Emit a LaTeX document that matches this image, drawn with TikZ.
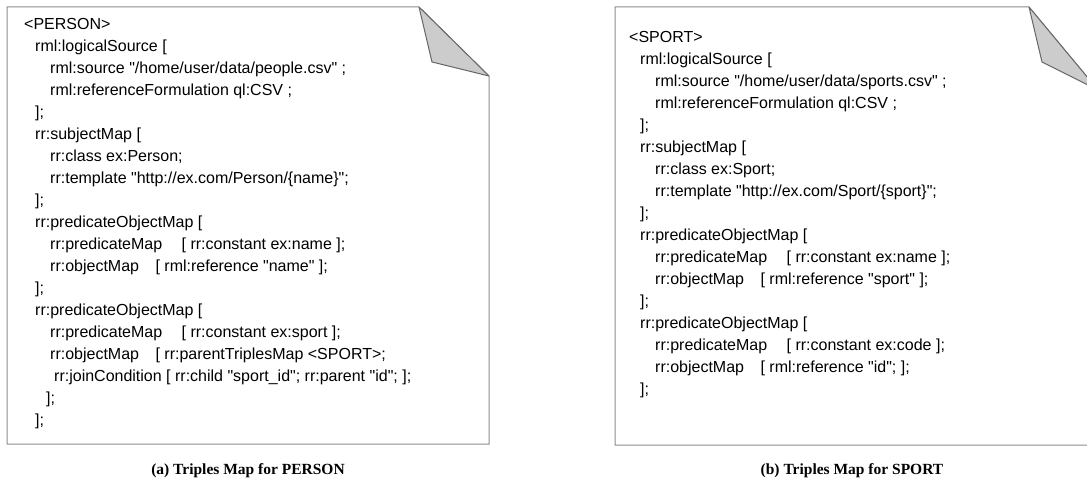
\documentclass[tikz,border=0pt]{standalone}
\usepackage{fontspec}
\setmainfont{Liberation Serif}
\setsansfont{Liberation Sans}[Ligatures=TeXOff]

\tikzset{
  paper/.style={draw=black!45, line width=1pt, fill=white},
  fold/.style={draw=black!60, line width=1pt, fill=black!20, line join=round},
  codetext/.style={anchor=north west, align=left, inner sep=0pt,
    font=\sffamily\fontsize{16}{22}\selectfont},
  captiontext/.style={font=\rmfamily\bfseries\fontsize{15.5}{18}\selectfont},
}
\newcommand{\ind}[1]{\hspace*{#1pt}}

\begin{document}
\begin{tikzpicture}[x=1pt,y=-1pt]
   \useasboundingbox (0,0) rectangle (1087,489);
   \clip (0,0) rectangle (1087,489);
   % sheets with folded corner
   \draw[paper] (7,7) -- (419,7) -- (489,76) -- (489,444) -- (7,444) -- cycle;
   \draw[fold] (419,7) -- (432,62) -- (489,76) -- cycle;
   \draw[paper] (615,7) -- (1029,7) -- (1098,90) -- (1098,445) -- (615,445) -- cycle;
   \draw[fold] (1029,7) -- (1042,62) -- (1098,90) -- cycle;
   % mapping code
   \node[codetext] (personcode) at (24,18) {<PERSON>\\
\ind{11}rml:logicalSource [\\
\ind{26}rml:source "/home/user/data/people.csv" ;\\
\ind{26}rml:referenceFormulation ql:CSV ;\\
\ind{11}];\\
\ind{11}rr:subjectMap [\\
\ind{26}rr:class ex:Person;\\
\ind{26}rr:template "http://ex.com/Person/\{name\}";\\
\ind{11}];\\
\ind{11}rr:predicateObjectMap [\\
\ind{26}rr:predicateMap\hspace{15pt} [ rr:constant ex:name ];\\
\ind{26}rr:objectMap\hspace{12pt} [ rml:reference "name" ];\\
\ind{11}];\\
\ind{11}rr:predicateObjectMap [\\
\ind{26}rr:predicateMap\hspace{15pt} [ rr:constant ex:sport ];\\
\ind{26}rr:objectMap\hspace{12pt} [ rr:parentTriplesMap <SPORT>;\\
\ind{30}rr:joinCondition [ rr:child "sport\_id"; rr:parent "id"; ];\\
\ind{22}];\\
\ind{11}];};
   \node[codetext] (sportcode) at (629,31) {<SPORT>\\
\ind{11}rml:logicalSource [\\
\ind{26}rml:source "/home/user/data/sports.csv" ;\\
\ind{26}rml:referenceFormulation ql:CSV ;\\
\ind{11}];\\
\ind{11}rr:subjectMap [\\
\ind{26}rr:class ex:Sport;\\
\ind{26}rr:template "http://ex.com/Sport/\{sport\}";\\
\ind{11}];\\
\ind{11}rr:predicateObjectMap [\\
\ind{26}rr:predicateMap\hspace{15pt} [ rr:constant ex:name ];\\
\ind{26}rr:objectMap\hspace{12pt} [ rml:reference "sport" ];\\
\ind{11}];\\
\ind{11}rr:predicateObjectMap [\\
\ind{26}rr:predicateMap\hspace{15pt} [ rr:constant ex:code ];\\
\ind{26}rr:objectMap\hspace{12pt} [ rml:reference "id"; ];\\
\ind{11}];};
   % captions
   \node[captiontext] (personcap) at (248,471) {(a) Triples Map for PERSON};
   \node[captiontext] (sportcap) at (852,471) {(b) Triples Map for SPORT};
\end{tikzpicture}
\end{document}
